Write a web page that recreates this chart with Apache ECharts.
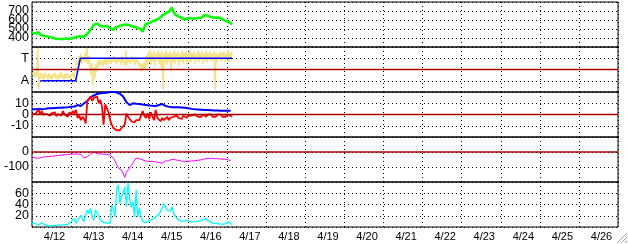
<!DOCTYPE html>
<html><head><meta charset="utf-8">
<script src="https://cdn.jsdelivr.net/npm/echarts@6/dist/echarts.min.js"></script>
<style>html,body{margin:0;padding:0;background:#fff;overflow:hidden}#c{width:628px;height:244px}</style>
</head><body><div id="c"></div>
<script>
// Tick labels (one per day, 4/12 .. 4/26)
const dayLabels = ['4/12','4/13','4/14','4/15','4/16','4/17','4/18','4/19','4/20','4/21','4/22','4/23','4/24','4/25','4/26'];
// x values are hours since 4/12 00:00
const hourlyStep = 1;

// Panel 1 (green), hourly from hour 0
const greenValues = [460,452,450,440,465,438,430,425,422,418,415,410,405,400,398,392,385,390,392,388,
  388,394,395,390,392,398,402,410,428,420,415,410,412,430,450,468,485,520,548,570,
  560,548,535,530,527,540,535,520,508,515,490,515,527,530,535,540,546,550,554,548,
  546,535,527,522,520,512,505,495,470,520,558,560,565,575,585,590,600,610,615,630,
  650,660,675,670,690,710,738,690,660,650,640,630,623,615,605,618,623,620,620,612,
  615,620,623,618,625,640,655,650,645,640,635,628,623,630,628,625,623,610,596,590,
  585,575,565,555];

// Panel 2 (sector): pale yellow samples, evenly spaced from yellowStart to yellowEnd
const yellowStart = 0.5, yellowEnd = 122.9;
const yellowValues = [-0.3,-0.6,-0.2,-0.7,-0.4,1.9,-1.8,-0.5,-0.3,-0.8,-0.4,-0.9,-0.3,-0.7,-0.5,-0.9,-0.3,-0.8,-0.5,-0.9,
  -0.4,-0.7,-0.3,-0.8,-0.5,-0.9,-0.4,-0.8,-0.2,-0.7,-0.5,-0.9,-0.4,-0.8,-0.3,-0.7,-0.5,-0.9,-0.4,-0.6,
  -0.3,-0.8,-0.2,0.3,0.8,0.4,1.2,0.6,1.4,0.5,1.1,0.7,1.5,0.6,1.9,0.5,1.2,0.3,-0.5,0.6,
  -1.4,0.2,-0.8,0.5,-0.2,0.8,0.3,0.9,0.4,0.8,0.2,0.9,0.5,1.0,0.4,0.9,0.6,1.1,0.5,1.0,
  0.7,1.2,0.6,1.0,0.5,1.1,0.7,1.0,0.4,1.2,0.6,1.0,0.3,1.7,0.4,1.1,0.6,1.0,0.5,1.2,
  0.7,1.0,0.4,1.1,0.6,0.9,0.3,0.6,-0.2,0.5,-0.1,0.7,0.0,1.2,0.3,1.5,0.6,1.7,0.4,1.5,
  0.7,1.6,0.3,1.4,0.8,1.7,0.5,1.5,0.2,1.6,-1.8,1.4,0.6,1.7,0.4,1.5,0.7,1.6,-0.2,1.4,
  0.6,1.7,0.5,1.5,0.8,1.6,0.3,1.4,0.7,1.7,0.5,1.5,0.9,1.6,0.4,1.4,0.7,1.7,0.6,1.5,
  0.9,1.6,0.5,1.4,0.8,1.7,0.6,1.5,0.9,1.6,0.5,1.4,0.8,1.7,0.6,1.5,0.9,1.6,0.7,1.4,
  0.8,1.6,-1.8,1.5,0.6,1.4,0.9,1.6,0.7,1.5,0.8,1.6,0.6,1.4,0.9,1.7,0.7,1.5,0.9,1.6];
// Panel 2 sector line (A = -1, T = +1)
const sectorHours = [5.2, 26.8, 29.7, 122.9];
const sectorValues = [-1, -1, 1, 1];

// Panel 3: blue (every 2 hours from 0), red (hourly from 0)
const bt2hValues = [4.6,4.6,4.8,4.6,5,5.5,5.5,5.8,6,6,6.2,6.4,6.8,7,8.4,7.6,10,12,15.5,17,
  18.2,18.8,19,19.4,20,20.3,19.5,18.5,16,11,8.4,9.9,9.5,9.3,8.8,8.4,8,7.8,7.6,8.5,
  9.3,7.6,7,6.5,6.4,6.4,6.2,6,5.5,5,4.6,4.5,4.3,4,4,3.8,3.6,3.5,3.4,3.4,3.4,3.4];
const bzValues = [0.5,1.5,0.5,2,4,0.5,3,0,1,0.5,2,-1,1,0,2,-1.5,0.5,1,-1,3,
  0,1,-2,2,0,3,1,4,-3,-1,-5,-2,-4,-8,12,11,16,12,15,14,
  16,10,13,7,-9,9,10,2,-5,-9,-12,-13,-14,-13,-14,-12,-13,-9,1,-2,
  -4,-6,-5,-7,-5,-6,-5,-6,3,-1,-3,1,-4,2,-2,-5,4,-3,-2,-6,
  -3,-5,-4,-2,-5,-3,-4,-2,-3,-1,-3,-2,-4,-1,-2,-3,-1,-2,-1,-2,
  0,-1,-2,-1,-2,0,-1,-2,0,-1,0,-2,-1,-2,0,-1,0,-2,-1,-2,
  0,-1,-1,-2];

// Panel 4 (magenta)
const dstHours = [0,2,4,6,8,10,12,14,16,18,20,22,24,26,28,30,32,34,36,38,39,40,42,44,46,48,50,51,52,53,54,55,56,57,58,59,60,61,62,63,64,65,66,68,70,72,74,76,78,79,80,81,82,84,86,88,90,92,94,96,98,100,102,104,106,108,110,112,114,116,118,120,122];
const dstValues = [-31,-40,-42,-36,-32,-30,-28,-27,-23,-21,-19,-17,-14,-13,-14,-15,-40,-30,-15,0,5,-10,-13,-15,-16,-20,-42,-60,-85,-105,-100,-120,-110,-169,-135,-120,-105,-90,-75,-55,-40,-27,-45,-53,-60,-64,-62,-66,-70,-62,-75,-88,-60,-58,-48,-52,-56,-60,-64,-62,-60,-58,-55,-52,-46,-42,-42,-44,-45,-47,-48,-50,-58];

// Panel 5 (cyan), hourly from 0
const cyanValues = [7.5,7,6.5,5,3.6,5,7.7,5,3.6,2.5,2,1.8,2,2.5,3,3,3.5,3,3.6,3.6,
  4,4,4.7,5,9.5,6,15,6.5,12,15,21,14,9.5,22,30,24,33,18,12,30,
  25,21,12,9.5,8,7.7,7,6.5,6.5,39,30,18,66,75,42,54,60,72,36,79,
  50,36,45,18,66,18,33,20,9.5,8,7.7,9,11,12,14,16,18,20,22,24,
  34,42,36,30,33,28,36,24,20,15,13,11,11,10,12,12,10,9.5,10,9.5,
  11,10,11,11,12,13,14,15,13,9.5,8,7,6.5,6.5,6,5.5,5,4.7,5,6,
  8,9.5,6,3.6];

const hourly = (vals, step) => vals.map((v, i) => [i * step, v]);
const paired = (hs, vs) => hs.map((h, i) => [h, vs[i]]);
const yStep = (yellowEnd - yellowStart) / (yellowValues.length - 1);
const yellowData = yellowValues.map((v, i) => [yellowStart + i * yStep, v]);

const FONT = 'Liberation Sans, Arial, sans-serif';
const dotted = {color: '#000', width: 1, type: [1, 3]};
const grids = [0,1,2,3,4].map(i => ({left: 32, right: 10, top: 2 + 45 * i, height: 45, show: true, borderColor: '#000', borderWidth: 1, backgroundColor: 'transparent'}));
const xAxes = [0,1,2,3,4].map(i => ({type: 'value', gridIndex: i, min: 0, max: 360, interval: 24,
  axisLine: {show: false}, axisTick: {show: false}, axisLabel: {show: false}, splitLine: {show: true, lineStyle: dotted}}));
xAxes.push({type: 'category', gridIndex: 4, data: dayLabels, boundaryGap: true, position: 'bottom',
  axisLine: {show: false}, axisTick: {show: false}, splitLine: {show: false},
  axisLabel: {interval: 0, fontSize: 11, color: '#000', margin: 4, fontFamily: FONT, padding: [0, 0, 0, 6]}});
const yBase = (i, min, max, interval, fmt) => ({type: 'value', gridIndex: i, min, max, interval,
  axisLine: {show: false}, axisTick: {show: false}, splitLine: {show: true, lineStyle: dotted},
  axisLabel: {showMinLabel: false, showMaxLabel: false, fontSize: 12.5, color: '#000', margin: 3, fontFamily: FONT, formatter: fmt}});
const yAxes = [
  yBase(0, 300, 800, 100),
  yBase(1, -2, 2, 1, v => v === 1 ? 'T' : (v === -1 ? 'A' : '')),
  yBase(2, -20, 20, 10),
  yBase(3, -200, 100, 100),
  yBase(4, 0, 80, 20)
];
const line = (xi, data, color, width) => ({type: 'line', xAxisIndex: xi, yAxisIndex: xi, data, showSymbol: false, symbol: 'none',
  lineStyle: {color, width}, itemStyle: {color}, silent: true, animation: false});
const zeroLine = (xi) => line(xi, [[0, 0], [360, 0]], '#a80000', 1.3);

const chart = echarts.init(document.getElementById('c'), null, {renderer: 'canvas'});
chart.setOption({
  animation: false,
  backgroundColor: '#fff',
  grid: grids,
  xAxis: xAxes,
  yAxis: yAxes,
  series: [
    line(0, hourly(greenValues, hourlyStep), '#00ff00', 2.5),
    line(1, yellowData, '#f2e38c', 1.6),
    zeroLine(1),
    line(1, paired(sectorHours, sectorValues), '#0000ff', 1.5),
    line(2, hourly(bt2hValues, 2), '#0000ff', 2),
    line(2, hourly(bzValues, hourlyStep), '#ff0000', 1.8),
    zeroLine(2),
    line(3, paired(dstHours, dstValues), '#ff00ff', 1),
    zeroLine(3),
    line(4, hourly(cyanValues, hourlyStep), '#00ffff', 1.3)
  ],
  graphic: [
    {type: 'line', shape: {x1: 627, y1: 233, x2: 617, y2: 243}, style: {stroke: '#a0a0a0', lineWidth: 1}},
    {type: 'line', shape: {x1: 627, y1: 237, x2: 621, y2: 243}, style: {stroke: '#a0a0a0', lineWidth: 1}},
    {type: 'line', shape: {x1: 627, y1: 241, x2: 625, y2: 243}, style: {stroke: '#a0a0a0', lineWidth: 1}}
  ]
});
</script>
</body></html>
